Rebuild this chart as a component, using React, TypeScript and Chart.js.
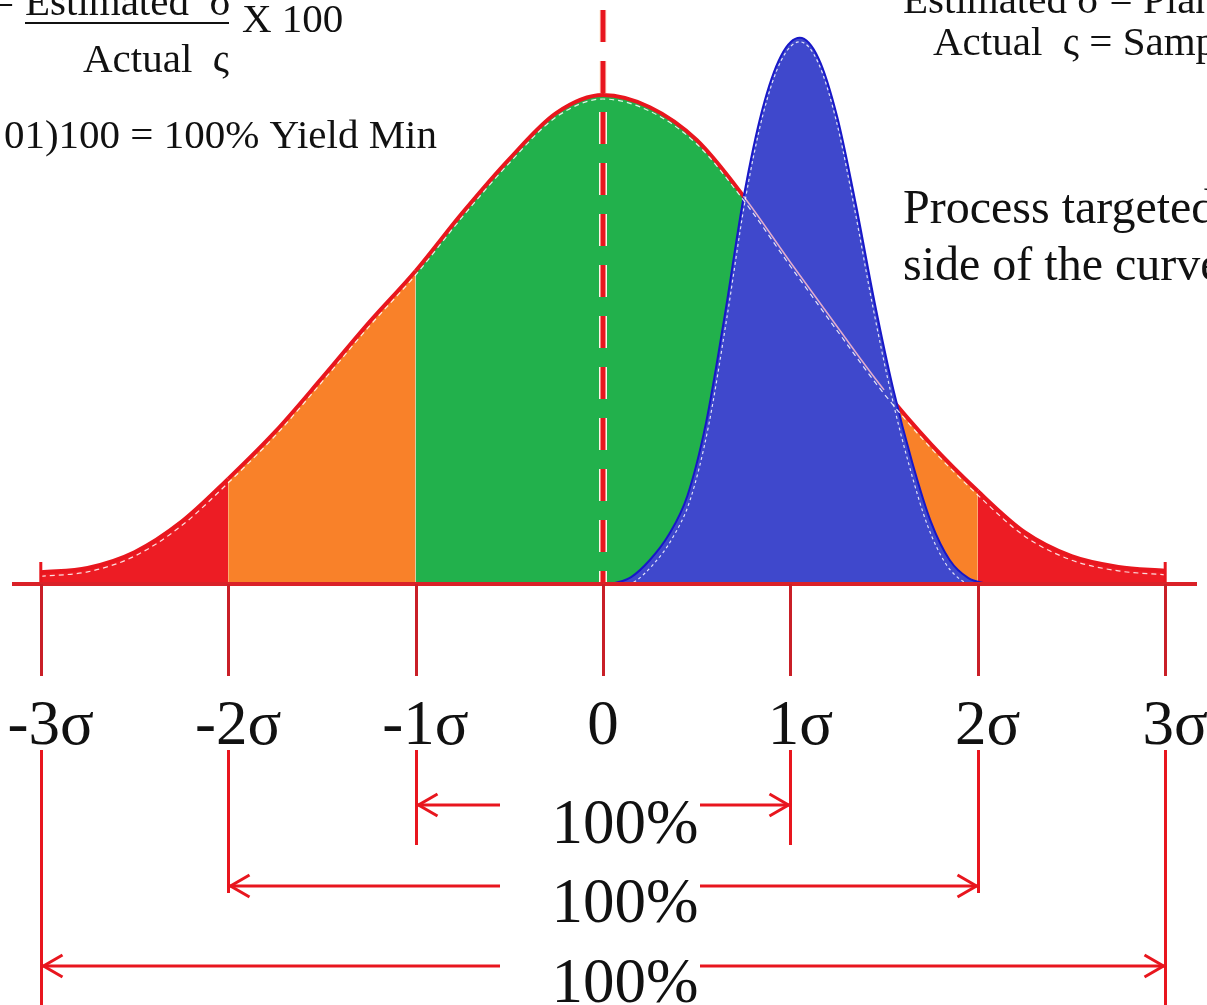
import React, { useEffect, useRef } from 'react';
import { Chart, registerables } from 'chart.js';

Chart.register(...registerables);

// Process distribution, heights relative to the peak (1.0), sampled in sigma units
const sigmaGrid = [-3, -2.75, -2.5, -2.25, -2, -1.75, -1.5, -1.25, -1, -0.75, -0.5, -0.25, 0, 0.25, 0.5, 0.75, 1, 1.25, 1.5, 1.75, 2, 2.25, 2.5, 2.75, 3];
const processCurve = [0.024, 0.033, 0.065, 0.127, 0.215, 0.311, 0.421, 0.534, 0.64, 0.759, 0.869, 0.963, 1.0, 0.975, 0.908, 0.793, 0.658, 0.526, 0.397, 0.286, 0.19, 0.106, 0.057, 0.035, 0.027];

// Narrow distribution of the process targeted to the right of the mean
const targetedX = [0.05, 0.15, 0.25, 0.35, 0.45, 0.55, 0.65, 0.75, 0.85, 0.95, 1.05, 1.15, 1.25, 1.35, 1.45, 1.55, 1.65, 1.75, 1.85, 1.95, 2.05];
const targetedCurve = [0, 0.014, 0.049, 0.1, 0.18, 0.33, 0.55, 0.79, 0.97, 1.08, 1.117, 1.075, 0.955, 0.775, 0.575, 0.397, 0.249, 0.127, 0.049, 0.012, 0];
const targetedPeak = 1.05;

// Mean line height
const meanLineTop = 1.174;

// Axis ticks and labels
const sigmaTicks = [-3, -2, -1, 0, 1, 2, 3];
const sigmaLabels = ['-3σ', '-2σ', '-1σ', '0', '1σ', '2σ', '3σ'];

// Colour bands of the process curve
const bandEdges = [-2, -1, 1, 2];
const bandColors = ['#ED1C24', '#F98129', '#22B14C', '#F98129', '#ED1C24'];

// Spans marked under the axis
const spanHalfWidths = [1, 2, 3];
const spanLabels = ['100%', '100%', '100%'];

// Layout (pixels)
const W = 1207;
const H = 1005;
const X_MIN = -3.2177;
const X_MAX = 3.2231;
const Y_MIN = -0.861;
const Y_MAX = 1.1943;
const spanArrowY = [805, 886, 966];
const spanLineBottom = [845, 893, 1005];
const spanTextBaseline = [843, 922, 1002];
const SERIF = '"Liberation Serif", "Times New Roman", serif';

const bandColorAt = (v: number) => {
  let i = 0;
  while (i < bandEdges.length && v > bandEdges[i]) i++;
  return bandColors[i];
};

const pts = (xs: number[], ys: number[]) => xs.map((x, i) => ({ x, y: ys[i] }));

// Offsets a dataset's drawing (used for the thin inner highlight traces)
const shiftPlugin = {
  id: 'traceShift',
  beforeDatasetDraw(chart: any, args: any) {
    const s = chart.data.datasets[args.index].shift;
    if (!s) return;
    const ctx = chart.ctx;
    ctx.save();
    const px = s.pivot !== undefined ? chart.scales.x.getPixelForValue(s.pivot) : 0;
    ctx.translate(px, s.dy || 0);
    ctx.scale(s.sx || 1, 1);
    ctx.translate(-px, 0);
  },
  afterDatasetDraw(chart: any, args: any) {
    if (chart.data.datasets[args.index].shift) chart.ctx.restore();
  },
};

const line = (ctx: CanvasRenderingContext2D, x1: number, y1: number, x2: number, y2: number) => {
  ctx.beginPath();
  ctx.moveTo(x1, y1);
  ctx.lineTo(x2, y2);
  ctx.stroke();
};

const arrowHead = (ctx: CanvasRenderingContext2D, tx: number, ty: number, dir: number) => {
  ctx.beginPath();
  ctx.moveTo(tx - dir * 19, ty - 11);
  ctx.lineTo(tx, ty);
  ctx.lineTo(tx - dir * 19, ty + 11);
  ctx.stroke();
};

// Axis, sigma ticks, span arrows and annotations
const decorPlugin = {
  id: 'sigmaDecor',
  afterDatasetsDraw(chart: any) {
    const { ctx } = chart;
    const xs = chart.scales.x;
    const ys = chart.scales.y;
    const y0 = ys.getPixelForValue(0);
    ctx.save();
    ctx.lineCap = 'butt';

    // curve end marks
    ctx.strokeStyle = '#E8161E';
    ctx.lineWidth = 3;
    [sigmaGrid[0], sigmaGrid[sigmaGrid.length - 1]].forEach((v) => {
      const px = xs.getPixelForValue(v);
      line(ctx, px, y0, px, ys.getPixelForValue(0.045));
    });

    // baseline
    ctx.strokeStyle = '#DA2128';
    ctx.lineWidth = 4;
    line(ctx, 12, y0, 1197, y0);

    // upper ticks
    ctx.strokeStyle = '#C91F27';
    ctx.lineWidth = 3;
    sigmaTicks.forEach((t) => {
      const px = Math.round(xs.getPixelForValue(t)) + 0.5;
      line(ctx, px, y0, px, y0 + 92);
    });

    // tick labels
    ctx.fillStyle = '#111111';
    ctx.font = `63px ${SERIF}`;
    ctx.textAlign = 'center';
    ctx.textBaseline = 'alphabetic';
    sigmaTicks.forEach((t, i) => {
      const px = xs.getPixelForValue(t);
      ctx.fillText(sigmaLabels[i], px + (t === 0 ? 0 : 10), y0 + 160);
    });

    // span lines and arrows
    ctx.strokeStyle = '#E8161E';
    ctx.lineWidth = 3;
    spanHalfWidths.forEach((k, r) => {
      const left = Math.round(xs.getPixelForValue(-k)) + 0.5;
      const right = Math.round(xs.getPixelForValue(k)) + 0.5;
      const ay = spanArrowY[r];
      line(ctx, left, 750, left, spanLineBottom[r]);
      line(ctx, right, 750, right, spanLineBottom[r]);
      line(ctx, left, ay, 500, ay);
      line(ctx, 700, ay, right, ay);
      arrowHead(ctx, left + 2, ay, -1);
      arrowHead(ctx, right - 2, ay, 1);
      ctx.fillText(spanLabels[r], 625, spanTextBaseline[r]);
    });

    // annotations
    ctx.textAlign = 'left';
    ctx.font = `41px ${SERIF}`;
    ctx.fillText('Estimated  σ', 25, 15);
    ctx.textAlign = 'right';
    ctx.fillText('=', 14, 15);
    ctx.textAlign = 'left';
    ctx.fillRect(25, 22, 204, 2);
    ctx.fillText('X 100', 242, 32);
    ctx.fillText('Actual  ς', 83, 72);
    ctx.textAlign = 'right';
    ctx.fillText('01)100 = 100% Yield Min', 437, 148);
    ctx.textAlign = 'left';
    ctx.fillText('Estimated σ = Planned', 903, 13);
    ctx.fillText('Actual  ς = Sample', 933, 55);
    ctx.font = `48px ${SERIF}`;
    ctx.fillText('Process targeted', 903, 223);
    ctx.fillText('side of the curve', 903, 280);
    ctx.restore();
  },
};

export default function App() {
  const ref = useRef<HTMLCanvasElement>(null);

  useEffect(() => {
    if (!ref.current) return;
    const mainPts = pts(sigmaGrid, processCurve);
    const targetPts = pts(targetedX, targetedCurve);
    const meanPts = [
      { x: 0, y: meanLineTop },
      { x: 0, y: 0 },
    ];

    const chart = new Chart(ref.current, {
      type: 'line',
      data: {
        datasets: [
          {
            // process curve with coloured bands
            data: mainPts,
            order: 10,
            borderColor: '#E8161E',
            borderWidth: 4,
            backgroundColor: '#22B14C',
            fill: 'origin',
            cubicInterpolationMode: 'monotone',
            pointRadius: 0,
            segment: {
              backgroundColor: (c: any) => bandColorAt((c.p0.parsed.x + c.p1.parsed.x) / 2),
            },
          } as any,
          {
            // targeted process
            data: targetPts,
            order: 9,
            borderColor: '#1818C8',
            borderWidth: 2,
            backgroundColor: '#3F48CC',
            fill: 'origin',
            cubicInterpolationMode: 'monotone',
            pointRadius: 0,
          },
          {
            // process curve seen through the targeted area
            data: mainPts,
            order: 8,
            borderWidth: 1.5,
            borderColor: 'rgba(0,0,0,0)',
            fill: false,
            cubicInterpolationMode: 'monotone',
            pointRadius: 0,
            segment: {
              borderColor: (c: any) => {
                const m = (c.p0.parsed.x + c.p1.parsed.x) / 2;
                return m > 0.75 && m < 1.6 ? 'rgba(255,190,205,0.85)' : 'rgba(0,0,0,0)';
              },
            },
          } as any,
          {
            // inner highlight of the process curve
            data: mainPts,
            order: 7,
            borderWidth: 1.2,
            borderColor: 'rgba(255,255,255,0.85)',
            borderDash: [5, 4],
            fill: false,
            cubicInterpolationMode: 'monotone',
            pointRadius: 0,
            shift: { dy: 4 },
          } as any,
          {
            // inner highlight of the targeted curve
            data: targetPts,
            order: 6,
            borderWidth: 1.2,
            borderColor: 'rgba(255,255,255,0.85)',
            borderDash: [3, 3],
            fill: false,
            cubicInterpolationMode: 'monotone',
            pointRadius: 0,
            shift: { dy: 4, sx: 0.975, pivot: targetedPeak },
          } as any,
          {
            // mean line outline
            data: meanPts,
            order: 5,
            borderWidth: 8,
            borderColor: '#FFF4E8',
            borderDash: [32, 19],
            fill: false,
            pointRadius: 0,
          },
          {
            // mean line
            data: meanPts,
            order: 4,
            borderWidth: 5,
            borderColor: '#E8161E',
            borderDash: [32, 19],
            fill: false,
            pointRadius: 0,
          },
        ],
      },
      options: {
        responsive: false,
        animation: false,
        events: [],
        layout: { padding: 0 },
        plugins: {
          legend: { display: false },
          tooltip: { enabled: false },
        },
        scales: {
          x: { type: 'linear', min: X_MIN, max: X_MAX, display: false },
          y: { type: 'linear', min: Y_MIN, max: Y_MAX, display: false },
        },
        elements: { line: { tension: 0 } },
      },
      plugins: [shiftPlugin, decorPlugin],
    } as any);

    return () => chart.destroy();
  }, []);

  return (
    <div style={{ position: 'absolute', left: 0, top: 0, width: W, height: H, background: '#ffffff' }}>
      <canvas ref={ref} width={W} height={H} />
    </div>
  );
}
